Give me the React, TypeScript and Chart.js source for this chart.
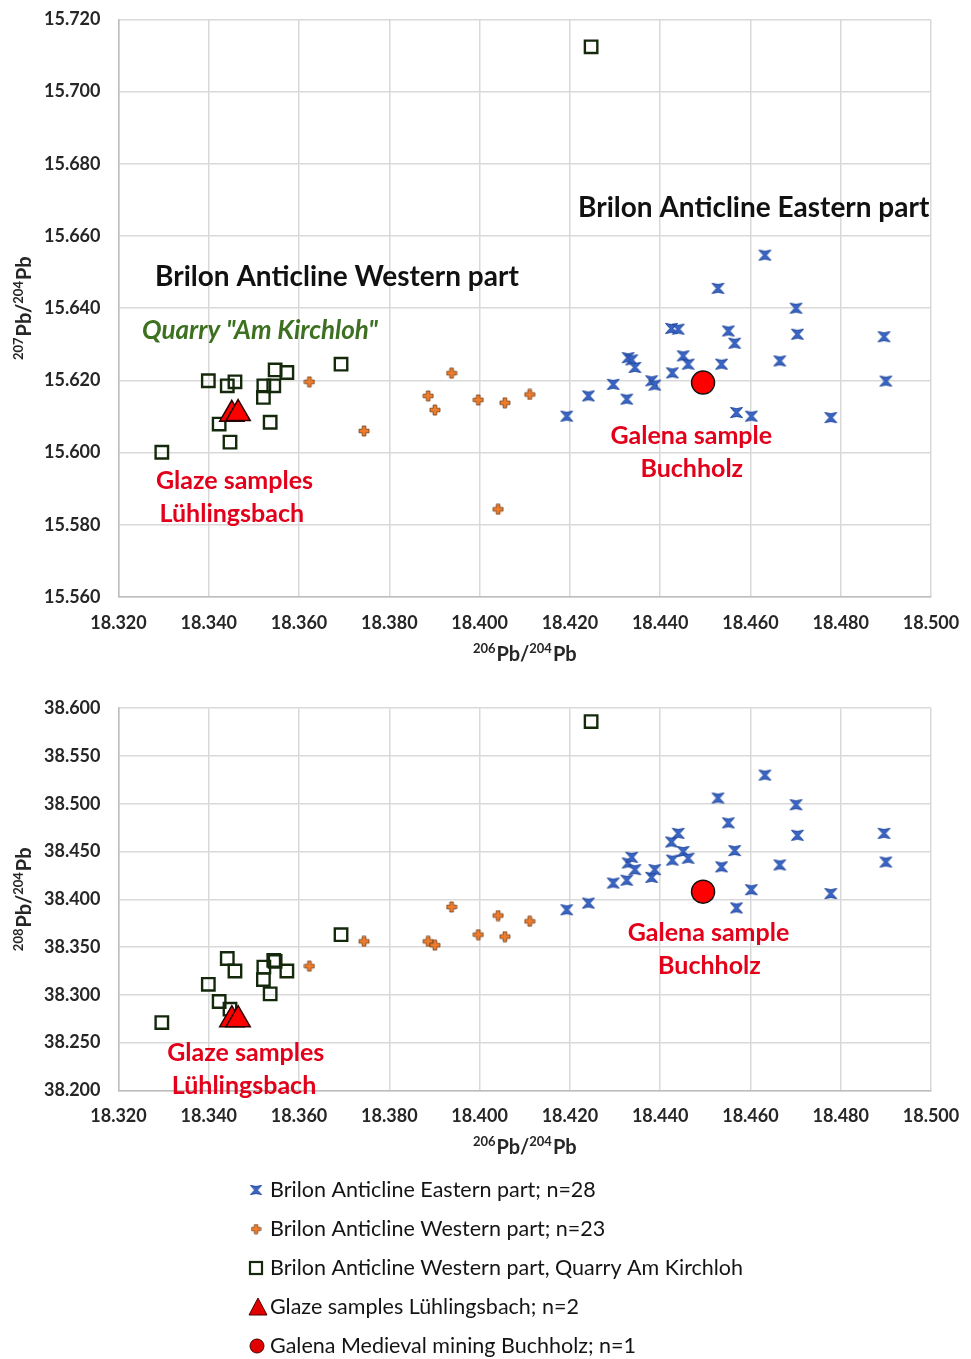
import React, { useEffect, useRef } from 'react';
import { Chart, registerables } from 'chart.js';

Chart.register(...registerables);

// ---------- axis ranges ----------
const X_MIN = 18.32;
const X_MAX = 18.5;
const X_STEP = 0.02;
const Y207_MIN = 15.56;
const Y207_MAX = 15.72;
const Y207_STEP = 0.02;
const Y208_MIN = 38.2;
const Y208_MAX = 38.6;
const Y208_STEP = 0.05;

// ---------- data ----------
const eastX = [18.4193, 18.4241, 18.4296, 18.4326, 18.4329, 18.4337, 18.4344, 18.4381, 18.4388, 18.4427, 18.4425, 18.444, 18.4451, 18.4462, 18.4528, 18.4536, 18.4551, 18.4565, 18.4569, 18.4602, 18.4632, 18.4665, 18.4701, 18.4704, 18.4778, 18.4896, 18.49];
const east207 = [15.6101, 15.6157, 15.6189, 15.6148, 15.6263, 15.6257, 15.6236, 15.6199, 15.6187, 15.6221, 15.6344, 15.6342, 15.6268, 15.6245, 15.6455, 15.6245, 15.6337, 15.6303, 15.6111, 15.6101, 15.6547, 15.6254, 15.64, 15.6328, 15.6097, 15.6321, 15.6198];
const east208 = [38.389, 38.396, 38.417, 38.42, 38.438, 38.444, 38.431, 38.423, 38.431, 38.441, 38.46, 38.469, 38.45, 38.443, 38.506, 38.434, 38.48, 38.451, 38.391, 38.41, 38.53, 38.436, 38.499, 38.467, 38.406, 38.469, 38.439];

const westX = [18.3623, 18.3744, 18.3886, 18.3901, 18.3938, 18.3997, 18.4041, 18.4056, 18.4111];
const west207 = [15.6196, 15.606, 15.6157, 15.6118, 15.622, 15.6146, 15.5843, 15.6138, 15.6161];
const west208 = [38.33, 38.356, 38.356, 38.352, 38.392, 38.363, 38.383, 38.361, 38.377];

const quarryX = [18.3296, 18.3399, 18.3441, 18.3458, 18.3423, 18.3447, 18.3521, 18.3522, 18.3544, 18.3547, 18.3573, 18.3536, 18.3693, 18.4247];
const quarry207 = [15.6001, 15.6199, 15.6185, 15.6196, 15.6079, 15.6029, 15.6153, 15.6185, 15.6185, 15.6229, 15.6222, 15.6084, 15.6245, 15.7124];
const quarry208 = [38.271, 38.311, 38.338, 38.325, 38.293, 38.285, 38.316, 38.329, 38.336, 38.335, 38.325, 38.301, 38.363, 38.586];

const glazeX = [18.3451, 18.3465];
const glaze207 = [15.6106, 15.6108];
const glaze208 = [38.274, 38.274];

const galenaX = [18.4495];
const galena207 = [15.6194];
const galena208 = [38.408];

const legendLabels = [
  'Brilon Anticline Eastern part; n=28',
  'Brilon Anticline Western part; n=23',
  'Brilon Anticline Western part, Quarry Am Kirchloh',
  'Glaze samples Lühlingsbach; n=2',
  'Galena Medieval mining Buchholz; n=1',
];

const RED_TEXT = '#e2001a';
const RED_FONT = 'bold 25px Lato';

type Annot = { text: string; x: number; y: number; color: string; font: string; align: CanvasTextAlign };

const annotTop: Annot[] = [
  { text: 'Brilon Anticline Eastern part', x: 18.4218, y: 15.6678, color: '#111111', font: 'bold 28px Lato', align: 'left' },
  { text: 'Brilon Anticline Western part', x: 18.3281, y: 15.6486, color: '#111111', font: 'bold 28px Lato', align: 'left' },
  { text: 'Quarry "Am Kirchloh"', x: 18.3252, y: 15.6337, color: '#3d7020', font: 'italic bold 26px Lato', align: 'left' },
  { text: 'Glaze samples', x: 18.3457, y: 15.5921, color: RED_TEXT, font: RED_FONT, align: 'center' },
  { text: 'Lühlingsbach', x: 18.3451, y: 15.583, color: RED_TEXT, font: RED_FONT, align: 'center' },
  { text: 'Galena sample', x: 18.4469, y: 15.6046, color: RED_TEXT, font: RED_FONT, align: 'center' },
  { text: 'Buchholz', x: 18.447, y: 15.5955, color: RED_TEXT, font: RED_FONT, align: 'center' },
];

const annotBottom: Annot[] = [
  { text: 'Galena sample', x: 18.4507, y: 38.365, color: RED_TEXT, font: RED_FONT, align: 'center' },
  { text: 'Buchholz', x: 18.4509, y: 38.33, color: RED_TEXT, font: RED_FONT, align: 'center' },
  { text: 'Glaze samples', x: 18.3482, y: 38.239, color: RED_TEXT, font: RED_FONT, align: 'center' },
  { text: 'Lühlingsbach', x: 18.3478, y: 38.205, color: RED_TEXT, font: RED_FONT, align: 'center' },
];

// ---------- marker glyphs ----------
function makeHourglass(): HTMLCanvasElement {
  const c = document.createElement('canvas');
  c.width = 15;
  c.height = 13;
  const g = c.getContext('2d')!;
  g.beginPath();
  g.moveTo(1.5, 1.5);
  g.lineTo(7.5, 2.6);
  g.lineTo(13.5, 1.5);
  g.lineTo(9, 6.5);
  g.lineTo(13.5, 11.5);
  g.lineTo(7.5, 10.4);
  g.lineTo(1.5, 11.5);
  g.lineTo(6, 6.5);
  g.closePath();
  g.fillStyle = '#3865c6';
  g.fill();
  g.strokeStyle = '#22469a';
  g.lineWidth = 1;
  g.stroke();
  return c;
}

function makePlus(): HTMLCanvasElement {
  const c = document.createElement('canvas');
  c.width = 12;
  c.height = 12;
  const g = c.getContext('2d')!;
  const m = 6, a = 1.8, r = 5;
  g.beginPath();
  g.moveTo(m - a, m - r);
  g.lineTo(m + a, m - r);
  g.lineTo(m + a, m - a);
  g.lineTo(m + r, m - a);
  g.lineTo(m + r, m + a);
  g.lineTo(m + a, m + a);
  g.lineTo(m + a, m + r);
  g.lineTo(m - a, m + r);
  g.lineTo(m - a, m + a);
  g.lineTo(m - r, m + a);
  g.lineTo(m - r, m - a);
  g.lineTo(m - a, m - a);
  g.closePath();
  g.fillStyle = '#f07c2b';
  g.fill();
  g.strokeStyle = '#6e3a12';
  g.lineWidth = 0.8;
  g.stroke();
  return c;
}

function drawIsoTitle(ctx: CanvasRenderingContext2D, sup1: string, sup2: string, cx: number, cy: number, rotate: boolean) {
  const main = 'bold 20px Lato';
  const small = 'bold 13px Lato';
  const parts: { t: string; sup: boolean }[] = [
    { t: sup1, sup: true },
    { t: 'Pb/', sup: false },
    { t: sup2, sup: true },
    { t: 'Pb', sup: false },
  ];
  ctx.save();
  ctx.fillStyle = '#262626';
  ctx.textBaseline = 'alphabetic';
  ctx.textAlign = 'left';
  let total = 0;
  const widths = parts.map((p) => {
    ctx.font = p.sup ? small : main;
    const w = ctx.measureText(p.t).width + (p.sup ? 1 : 0);
    total += w;
    return w;
  });
  ctx.translate(cx, cy);
  if (rotate) ctx.rotate(-Math.PI / 2);
  let x = -total / 2;
  parts.forEach((p, i) => {
    ctx.font = p.sup ? small : main;
    ctx.fillText(p.t, x, p.sup ? -1 : 7);
    x += widths[i];
  });
  ctx.restore();
}

const W = 971;
const PLOT_LEFT = 118.5;
const PLOT_RIGHT = 931;
const X_AXIS_H = 70;

type PanelSpec = {
  canvasH: number;
  plotTop: number;
  plotBottom: number;
  yMin: number;
  yMax: number;
  yStep: number;
  yDec: number;
  eastY: number[];
  westY: number[];
  quarryY: number[];
  glazeY: number[];
  galenaY: number[];
  sup: string;
  annots: Annot[];
  legend: boolean;
};

function buildChart(canvas: HTMLCanvasElement, s: PanelSpec): Chart {
  const hour = makeHourglass();
  const plus = makePlus();
  const pts = (xs: number[], ys: number[]) => xs.map((x, i) => ({ x, y: ys[i] }));

  const overlay = {
    id: 'overlay',
    afterDraw(chart: any) {
      const ctx: CanvasRenderingContext2D = chart.ctx;
      const xs = chart.scales.x;
      const ys = chart.scales.y;
      s.annots.forEach((a) => {
        ctx.save();
        ctx.font = a.font;
        ctx.fillStyle = a.color;
        ctx.textAlign = a.align;
        ctx.textBaseline = 'middle';
        ctx.fillText(a.text, xs.getPixelForValue(a.x), ys.getPixelForValue(a.y));
        ctx.restore();
      });
      const area = chart.chartArea;
      drawIsoTitle(ctx, '206', '204', (area.left + area.right) / 2, area.bottom + 57, false);
      drawIsoTitle(ctx, s.sup, '204', 24, (area.top + area.bottom) / 2, true);
      if (s.legend) {
        const baseY = area.bottom + 99.6;
        const gap = 39;
        const ix = 256;
        const tx = 270;
        ctx.save();
        legendLabels.forEach((label, i) => {
          const y = baseY + i * gap;
          if (i === 0) {
            ctx.drawImage(hour, ix - 7, y - 6, 14, 12);
          } else if (i === 1) {
            ctx.drawImage(plus, ix - 5.5, y - 5.5, 11, 11);
          } else if (i === 2) {
            ctx.strokeStyle = '#14290c';
            ctx.lineWidth = 2.2;
            ctx.strokeRect(ix - 6, y - 6, 12, 12);
          } else if (i === 3) {
            ctx.beginPath();
            ctx.moveTo(ix + 2, y - 9);
            ctx.lineTo(ix + 11, y + 8);
            ctx.lineTo(ix - 7, y + 8);
            ctx.closePath();
            ctx.fillStyle = '#e00000';
            ctx.fill();
            ctx.strokeStyle = '#4a0000';
            ctx.lineWidth = 1;
            ctx.stroke();
          } else {
            ctx.beginPath();
            ctx.arc(ix + 1, y, 7, 0, Math.PI * 2);
            ctx.fillStyle = '#e00000';
            ctx.fill();
            ctx.strokeStyle = '#4a0000';
            ctx.lineWidth = 1;
            ctx.stroke();
          }
          ctx.font = '21.5px Lato';
          ctx.fillStyle = '#141414';
          ctx.textAlign = 'left';
          ctx.textBaseline = 'middle';
          ctx.fillText(label, tx, y);
        });
        ctx.restore();
      }
    },
  };

  const tickFont = { family: 'Lato', size: 18, weight: 'bold' as const };

  return new Chart(canvas, {
    type: 'scatter',
    data: {
      datasets: [
        {
          label: legendLabels[0],
          data: pts(eastX, s.eastY),
          pointStyle: hour as any,
          pointRadius: 6,
          order: 3,
        },
        {
          label: legendLabels[1],
          data: pts(westX, s.westY),
          pointStyle: plus as any,
          pointRadius: 6,
          order: 4,
        },
        {
          label: legendLabels[2],
          data: pts(quarryX, s.quarryY),
          pointStyle: 'rect',
          pointRadius: 8.8,
          backgroundColor: 'rgba(0,0,0,0)',
          borderColor: '#14290c',
          borderWidth: 2.4,
          order: 5,
        },
        {
          label: legendLabels[3],
          data: pts(glazeX, s.glazeY),
          pointStyle: 'triangle',
          pointRadius: 14,
          backgroundColor: '#ff0000',
          borderColor: '#2a0000',
          borderWidth: 1.5,
          order: 1,
        },
        {
          label: legendLabels[4],
          data: pts(galenaX, s.galenaY),
          pointStyle: 'circle',
          pointRadius: 11.5,
          backgroundColor: '#ff0000',
          borderColor: '#111111',
          borderWidth: 1.5,
          order: 2,
        },
      ],
    },
    options: {
      responsive: false,
      devicePixelRatio: 1,
      animation: false,
      events: [],
      layout: {
        padding: {
          left: 0,
          right: W - PLOT_RIGHT,
          top: s.plotTop,
          bottom: s.canvasH - s.plotBottom - X_AXIS_H,
        },
      },
      plugins: {
        legend: { display: false },
        tooltip: { enabled: false },
      },
      scales: {
        x: {
          type: 'linear',
          min: X_MIN,
          max: X_MAX,
          afterFit: (sc: any) => {
            sc.height = X_AXIS_H;
            sc.paddingLeft = 0;
            sc.paddingRight = 0;
          },
          ticks: {
            stepSize: X_STEP,
            font: tickFont,
            color: '#262626',
            padding: 15,
            maxRotation: 0,
            callback: (v: any) => Number(v).toFixed(3),
          },
          grid: { color: '#d9d9d9', lineWidth: 1.5, drawTicks: false },
          border: { display: true, color: '#bdbdbd', width: 1.5 },
        },
        y: {
          type: 'linear',
          min: s.yMin,
          max: s.yMax,
          afterFit: (sc: any) => {
            sc.width = PLOT_LEFT;
            sc.paddingTop = 0;
            sc.paddingBottom = 0;
          },
          ticks: {
            stepSize: s.yStep,
            font: tickFont,
            color: '#262626',
            padding: 18,
            callback: (v: any) => Number(v).toFixed(s.yDec),
          },
          grid: { color: '#d9d9d9', lineWidth: 1.5, drawTicks: false },
          border: { display: true, color: '#bdbdbd', width: 1.5 },
        },
      },
    } as any,
    plugins: [overlay],
  });
}

const TOP_H = 680;
const BOTTOM_H = 1359 - TOP_H;

export default function App() {
  const topRef = useRef<HTMLCanvasElement>(null);
  const botRef = useRef<HTMLCanvasElement>(null);

  useEffect(() => {
    const c1 = buildChart(topRef.current!, {
      canvasH: TOP_H,
      plotTop: 19.4,
      plotBottom: 597,
      yMin: Y207_MIN,
      yMax: Y207_MAX,
      yStep: Y207_STEP,
      yDec: 3,
      eastY: east207,
      westY: west207,
      quarryY: quarry207,
      glazeY: glaze207,
      galenaY: galena207,
      sup: '207',
      annots: annotTop,
      legend: false,
    });
    const c2 = buildChart(botRef.current!, {
      canvasH: BOTTOM_H,
      plotTop: 708.2 - TOP_H,
      plotBottom: 1090.4 - TOP_H,
      yMin: Y208_MIN,
      yMax: Y208_MAX,
      yStep: Y208_STEP,
      yDec: 3,
      eastY: east208,
      westY: west208,
      quarryY: quarry208,
      glazeY: glaze208,
      galenaY: galena208,
      sup: '208',
      annots: annotBottom,
      legend: true,
    });
    return () => {
      c1.destroy();
      c2.destroy();
    };
  }, []);

  return (
    <div style={{ position: 'absolute', left: 0, top: 0, width: W, height: 1359, background: '#ffffff' }}>
      <canvas
        ref={topRef}
        width={W}
        height={TOP_H}
        style={{ position: 'absolute', left: 0, top: 0, width: W, height: TOP_H }}
      />
      <canvas
        ref={botRef}
        width={W}
        height={BOTTOM_H}
        style={{ position: 'absolute', left: 0, top: TOP_H, width: W, height: BOTTOM_H }}
      />
    </div>
  );
}
